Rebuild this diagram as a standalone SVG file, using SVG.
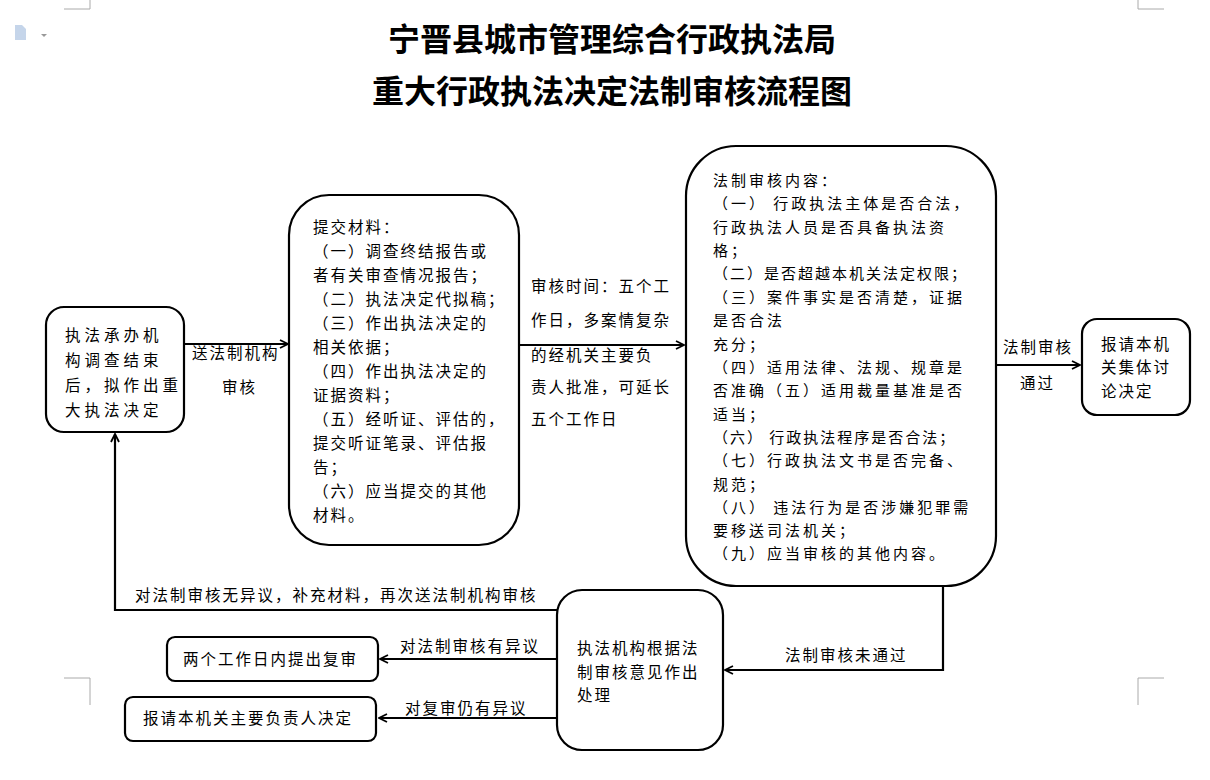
<svg xmlns="http://www.w3.org/2000/svg" width="1210" height="780" viewBox="0 0 1210 780">
<style>
.n{fill:#fff;stroke:#000;stroke-width:2.2}
.t{font-family:"Noto Sans CJK SC","Liberation Sans",sans-serif;font-size:15.5px;fill:#000;letter-spacing:2px}
.ti{font-family:"Noto Sans CJK SC",sans-serif;font-size:32px;font-weight:bold;fill:#000;text-anchor:middle}
.c{fill:none;stroke:#000;stroke-width:2.2}
.m{fill:none;stroke:#aaa;stroke-width:1}
</style>
<defs><marker id="a" markerWidth="10" markerHeight="10" refX="9" refY="5" orient="auto" markerUnits="userSpaceOnUse"><path d="M1,1 L9,5 L1,9" fill="none" stroke="#000" stroke-width="1.8"/></marker></defs>
<rect width="1210" height="780" fill="#fff"/>
<path class="m" d="M64,9H90V0M1164,9H1138V0M64,678H90V705M1164,678H1138V705"/>
<g fill="#c5d5ea"><path d="M15,25h7l4,4v11h-11z"/></g><path d="M41,34l3,3 3-3z" fill="#999"/>
<text class="ti" x="612" y="51">宁晋县城市管理综合行政执法局</text>
<text class="ti" x="612" y="103">重大行政执法决定法制审核流程图</text>
<g id="connectors">
<path class="c" d="M184,344H288" marker-end="url(#a)"/>
<path class="c" d="M519,345H684" marker-end="url(#a)"/>
<path class="c" d="M996,365H1080" marker-end="url(#a)"/>
<path class="c" d="M943,586V670H725" marker-end="url(#a)"/>
<path class="c" d="M557,610H115V434" marker-end="url(#a)"/>
<path class="c" d="M557,659H380" marker-end="url(#a)"/>
<path class="c" d="M557,718H379" marker-end="url(#a)"/>
<text class="t" x="192" y="359">送法制机构</text><text class="t" x="222" y="393">审核</text>
<text class="t"><tspan x="531" y="292">审核时间：五个工</tspan><tspan x="531" y="326">作日，多案情复杂</tspan><tspan x="531" y="361">的经机关主要负</tspan><tspan x="531" y="393">责人批准，可延长</tspan><tspan x="531" y="425">五个工作日</tspan></text>
<text class="t" x="1003" y="353">法制审核</text><text class="t" x="1020" y="389">通过</text>
<text class="t" x="785" y="661">法制审核未通过</text>
<text class="t" x="135" y="601">对法制审核无异议，补充材料，再次送法制机构审核</text>
<text class="t" x="400" y="652">对法制审核有异议</text>
<text class="t" x="405" y="714">对复审仍有异议</text>
</g>
<g id="nA"><rect class="n" x="46" y="307" width="138" height="125" rx="18"/>
<text class="t" style="letter-spacing:4px"><tspan x="65" y="341">执法承办机</tspan><tspan x="65" y="366">构调查结束</tspan><tspan x="65" y="391">后，拟作出重</tspan><tspan x="65" y="416">大执法决定</tspan></text></g>
<g id="nB"><rect class="n" x="289" y="195" width="230" height="350" rx="40"/>
<text class="t"><tspan x="313" y="233">提交材料：</tspan><tspan x="313" y="257">（一）调查终结报告或</tspan><tspan x="313" y="281">者有关审查情况报告；</tspan><tspan x="313" y="305">（二）执法决定代拟稿；</tspan><tspan x="313" y="329">（三）作出执法决定的</tspan><tspan x="313" y="353">相关依据；</tspan><tspan x="313" y="377">（四）作出执法决定的</tspan><tspan x="313" y="401">证据资料；</tspan><tspan x="313" y="425">（五）经听证、评估的，</tspan><tspan x="313" y="449">提交听证笔录、评估报</tspan><tspan x="313" y="473">告；</tspan><tspan x="313" y="497">（六）应当提交的其他</tspan><tspan x="313" y="521">材料。</tspan></text></g>
<g id="nC"><rect class="n" x="686" y="146" width="310" height="440" rx="50"/>
<text class="t" style="font-size:15px;letter-spacing:3px"><tspan x="713" y="186">法制审核内容：</tspan><tspan x="713" y="209">（一） 行政执法主体是否合法，</tspan><tspan x="713" y="233">行政执法人员是否具备执法资</tspan><tspan x="713" y="256">格；</tspan><tspan x="713" y="279" style="letter-spacing:2px">（二）是否超越本机关法定权限；</tspan><tspan x="713" y="303">（三）案件事实是否清楚，证据</tspan><tspan x="713" y="326">是否合法</tspan><tspan x="713" y="350">充分；</tspan><tspan x="713" y="373">（四）适用法律、法规、规章是</tspan><tspan x="713" y="396">否准确（五）适用裁量基准是否</tspan><tspan x="713" y="420">适当；</tspan><tspan x="713" y="443" style="letter-spacing:2px">（六） 行政执法程序是否合法；</tspan><tspan x="713" y="466">（七）行政执法文书是否完备、</tspan><tspan x="713" y="490">规范；</tspan><tspan x="713" y="513">（八） 违法行为是否涉嫌犯罪需</tspan><tspan x="713" y="536">要移送司法机关；</tspan><tspan x="713" y="559">（九）应当审核的其他内容。</tspan></text></g>
<g id="nD"><rect class="n" x="1082" y="319" width="108" height="96" rx="15"/>
<text class="t"><tspan x="1101" y="350">报请本机</tspan><tspan x="1101" y="373">关集体讨</tspan><tspan x="1101" y="397">论决定</tspan></text></g>
<g id="nE"><rect class="n" x="557" y="590" width="166" height="160" rx="25"/>
<text class="t"><tspan x="577" y="654">执法机构根据法</tspan><tspan x="577" y="678">制审核意见作出</tspan><tspan x="577" y="701">处理</tspan></text></g>
<g id="nF"><rect class="n" x="167" y="637" width="211" height="44" rx="8"/>
<text class="t" x="183" y="665">两个工作日内提出复审</text></g>
<g id="nG"><rect class="n" x="125" y="697" width="251" height="44" rx="8"/>
<text class="t" x="143" y="724">报请本机关主要负责人决定</text></g>
</svg>
